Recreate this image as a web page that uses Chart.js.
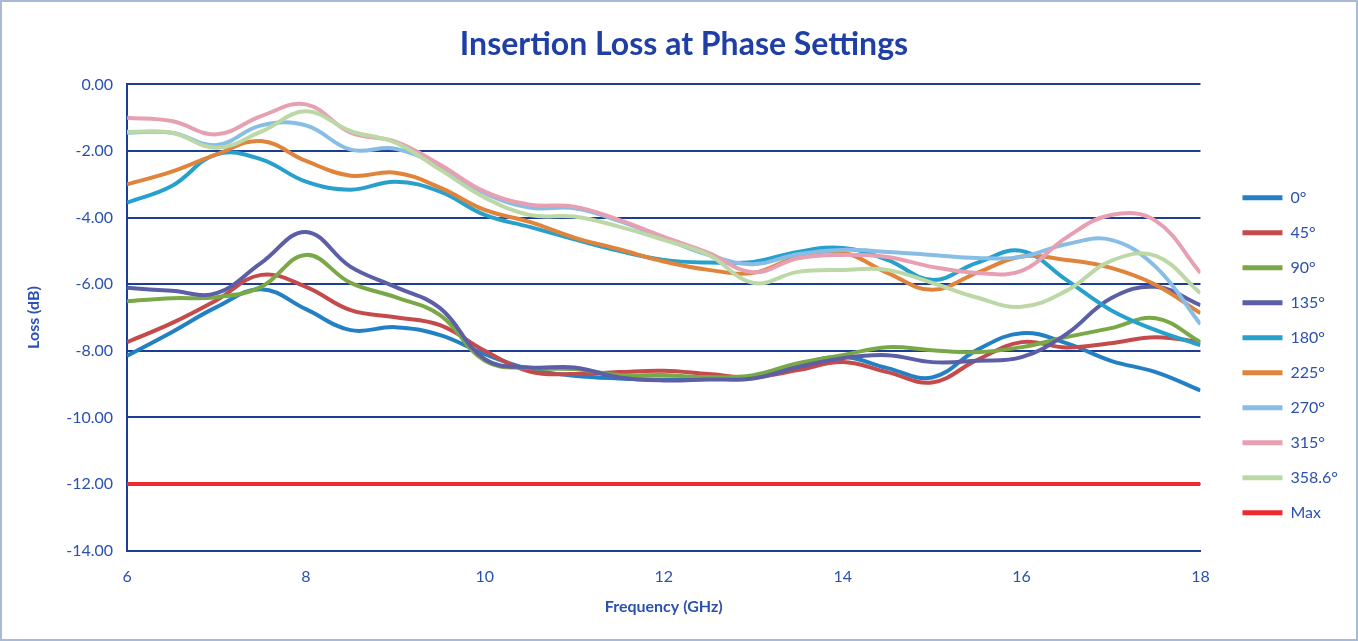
<!DOCTYPE html>
<html>
<head>
<meta charset="utf-8">
<script src="https://cdn.jsdelivr.net/npm/chart.js@4.4.1/dist/chart.umd.min.js"></script>
<style>
  html, body { margin: 0; padding: 0; background: #ffffff; }
  #wrap { position: absolute; left: 0; top: 0; width: 1358px; height: 641px; box-sizing: border-box; border: 2px solid #a9bad6; background: #fff; }
  canvas { display: block; }
</style>
</head>
<body>
<div id="wrap"><canvas id="c" width="1354" height="637"></canvas></div>
<script>
const freq = [6,6.5,7,7.5,8,8.5,9,9.5,10,10.5,11,11.5,12,12.5,13,13.5,14,14.5,15,15.5,16,16.5,17,17.5,18];
const seriesNames = ['0°','45°','90°','135°','180°','225°','270°','315°','358.6°','Max'];
const loss0   = [-8.15,-7.44,-6.69,-6.15,-6.75,-7.38,-7.29,-7.53,-8.10,-8.55,-8.75,-8.83,-8.86,-8.83,-8.80,-8.43,-8.18,-8.52,-8.80,-7.98,-7.47,-7.77,-8.30,-8.64,-9.19];
const loss45  = [-7.74,-7.17,-6.48,-5.72,-6.08,-6.78,-6.99,-7.23,-8.00,-8.62,-8.70,-8.64,-8.60,-8.70,-8.79,-8.58,-8.34,-8.64,-8.95,-8.28,-7.74,-7.90,-7.77,-7.59,-7.74];
const loss90  = [-6.51,-6.42,-6.39,-6.08,-5.12,-5.96,-6.39,-6.93,-8.30,-8.52,-8.55,-8.73,-8.73,-8.79,-8.73,-8.37,-8.13,-7.89,-7.98,-8.04,-7.89,-7.59,-7.32,-7.02,-7.74];
const loss135 = [-6.11,-6.20,-6.27,-5.36,-4.43,-5.48,-6.08,-6.72,-8.25,-8.50,-8.50,-8.80,-8.89,-8.86,-8.83,-8.49,-8.22,-8.13,-8.34,-8.30,-8.19,-7.50,-6.42,-6.08,-6.63];
const loss180 = [-3.55,-3.05,-2.10,-2.25,-2.92,-3.16,-2.92,-3.22,-3.92,-4.28,-4.65,-5.00,-5.27,-5.35,-5.33,-5.03,-4.91,-5.27,-5.87,-5.36,-5.00,-5.87,-6.78,-7.38,-7.83];
const loss225 = [-3.00,-2.62,-2.10,-1.70,-2.30,-2.74,-2.65,-3.10,-3.77,-4.13,-4.60,-4.95,-5.32,-5.57,-5.66,-5.18,-5.05,-5.66,-6.17,-5.66,-5.17,-5.27,-5.51,-6.02,-6.87];
const loss270 = [-1.45,-1.45,-1.82,-1.23,-1.23,-1.96,-1.93,-2.48,-3.27,-3.70,-3.72,-4.10,-4.62,-5.12,-5.40,-5.10,-4.97,-5.03,-5.12,-5.21,-5.18,-4.80,-4.67,-5.48,-7.20];
const loss315 = [-1.00,-1.10,-1.50,-0.95,-0.60,-1.45,-1.72,-2.41,-3.22,-3.61,-3.67,-4.07,-4.58,-5.06,-5.64,-5.22,-5.12,-5.18,-5.48,-5.66,-5.60,-4.60,-3.92,-4.10,-5.66];
const loss3586= [-1.42,-1.45,-1.90,-1.42,-0.81,-1.40,-1.75,-2.56,-3.40,-3.92,-3.97,-4.27,-4.67,-5.12,-5.96,-5.63,-5.57,-5.57,-5.96,-6.40,-6.68,-6.20,-5.30,-5.15,-6.27];
const lossMax = [-12,-12,-12,-12,-12,-12,-12,-12,-12,-12,-12,-12,-12,-12,-12,-12,-12,-12,-12,-12,-12,-12,-12,-12,-12];
const yTicks = [0,-2,-4,-6,-8,-10,-12,-14];
const xTicks = [6,8,10,12,14,16,18];

const colors = ['#2480c4','#c44a4c','#7aa846','#5c5ea6','#27a0cc','#e0843c','#88bde6','#e6a0b2','#bcd8a6','#ee2a30'];
const allData = [loss0,loss45,loss90,loss135,loss180,loss225,loss270,loss315,loss3586,lossMax];

const datasets = allData.map((arr, i) => ({
  label: seriesNames[i],
  data: arr.map((v, j) => ({x: freq[j], y: v})),
  borderColor: colors[i],
  backgroundColor: colors[i],
  borderWidth: 4,
  pointRadius: 0,
  tension: 0.4,
  fill: false,
  order: allData.length - i
}));

const txt = '#2a50b0';
new Chart(document.getElementById('c'), {
  type: 'line',
  data: { datasets },
  options: {
    responsive: false,
    animation: false,
    layout: { padding: { left: 18, right: 8, top: 4, bottom: 19 } },
    plugins: {
      title: {
        display: true,
        text: 'Insertion Loss at Phase Settings',
        color: '#1f3fa6',
        font: { family: 'Lato', size: 32, weight: 'bold' },
        padding: { top: 19, bottom: 21 }
      },
      legend: {
        position: 'right',
        align: 'center',
        title: { display: true, text: ' ', color: 'rgba(0,0,0,0)', font: { size: 12 }, padding: { top: 70, bottom: 0 } },
        labels: {
          color: txt,
          font: { family: 'Lato', size: 16 },
          boxWidth: 40,
          boxHeight: 5,
          padding: 19,
          sort: (a, b) => a.datasetIndex - b.datasetIndex,
          generateLabels: (chart) => {
            const items = Chart.defaults.plugins.legend.labels.generateLabels(chart);
            items.forEach(it => { it.lineWidth = 0; });
            return items;
          }
        }
      },
      tooltip: { enabled: false }
    },
    scales: {
      x: {
        type: 'linear',
        min: 6, max: 18,
        afterBuildTicks: (axis) => { axis.ticks = xTicks.map(v => ({value: v})); },
        grid: { display: false, drawTicks: false },
        border: { display: true, color: '#1c3d96', width: 2 },
        ticks: { color: txt, font: { family: 'Lato', size: 16 }, padding: 17 },
        title: { display: true, text: 'Frequency (GHz)', color: txt, font: { family: 'Lato', size: 16, weight: 'bold' }, padding: { top: -7, bottom: 4 } }
      },
      y: {
        min: -14, max: 0,
        afterBuildTicks: (axis) => { axis.ticks = yTicks.map(v => ({value: v})); },
        grid: { color: '#1c3d96', lineWidth: 2, drawTicks: false },
        border: { display: true, color: '#1c3d96', width: 2 },
        ticks: { color: txt, font: { family: 'Lato', size: 16 }, padding: 14, callback: (v) => Number(v).toFixed(2) },
        title: { display: true, text: 'Loss (dB)', color: txt, font: { family: 'Lato', size: 16, weight: 'bold' }, padding: { top: 4, bottom: 9 } }
      },
      gap: {
        type: 'linear',
        position: 'right',
        min: -14, max: 0,
        grid: { display: false, drawTicks: false },
        border: { display: false },
        ticks: { display: false },
        title: { display: true, text: ' ', color: 'rgba(0,0,0,0)', font: { size: 10 }, padding: { top: 5.5, bottom: 5.5 } }
      }
    }
  }
});
</script>
</body>
</html>
